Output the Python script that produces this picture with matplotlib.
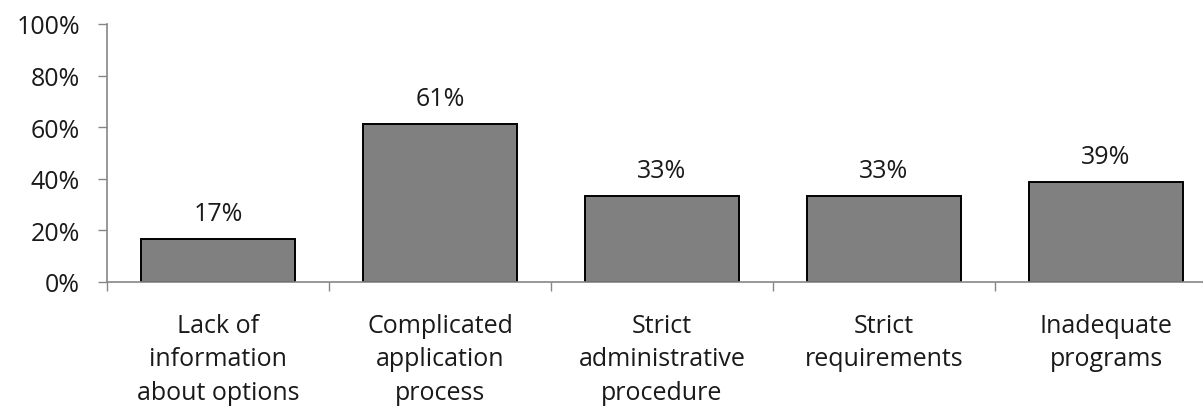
import matplotlib
matplotlib.use("Agg")
import matplotlib.pyplot as plt
import numpy as np

categories = ["Lack of\ninformation\nabout options",
              "Complicated\napplication\nprocess",
              "Strict\nadministrative\nprocedure",
              "Strict\nrequirements",
              "Inadequate\nprograms"]
values = [16.7, 61.1, 33.3, 33.3, 38.9]
yticks = [0, 20, 40, 60, 80, 100]

plt.rcParams['font.family'] = ['Open Sans', 'DejaVu Sans']
axis_grey = '#868686'
fs = 18

fig = plt.figure(figsize=(12.03, 4.10), dpi=100)
ax = fig.add_axes([107/1203, 127/410, 1110/1203, 258/410])

x = np.arange(len(categories))
bars = ax.bar(x, values, width=0.69, color='#808080', edgecolor='black', linewidth=1.4, zorder=3)

for xi, v in zip(x, values):
    ax.annotate("%.0f%%" % v, (xi, v), xytext=(0, 19), textcoords='offset pixels',
                ha='center', va='baseline', fontsize=fs, color='#1a1a1a')

ax.set_xlim(-0.5, len(categories) - 0.5)
ax.set_ylim(0, 100)
ax.set_yticks(yticks)
ax.set_yticklabels(["%d%%" % t for t in yticks])

ax.set_xticks(x)
ax.set_xticklabels(categories, linespacing=1.45)
ax.set_xticks(np.arange(-0.5, len(categories)), minor=True)
ax.tick_params(axis='x', which='major', length=0, pad=22, labelsize=fs, labelcolor='#1a1a1a')
ax.tick_params(axis='x', which='minor', length=6.5, width=1, color=axis_grey, direction='out')
ax.tick_params(axis='y', length=6.5, width=1, color=axis_grey, direction='out', pad=13,
               labelsize=fs, labelcolor='#1a1a1a')

for side in ['top', 'right']:
    ax.spines[side].set_visible(False)
for side in ['left', 'bottom']:
    ax.spines[side].set_color(axis_grey)
    ax.spines[side].set_linewidth(1.2)
ax.spines['bottom'].set_zorder(4)

fig.savefig("out.png", dpi=100)
